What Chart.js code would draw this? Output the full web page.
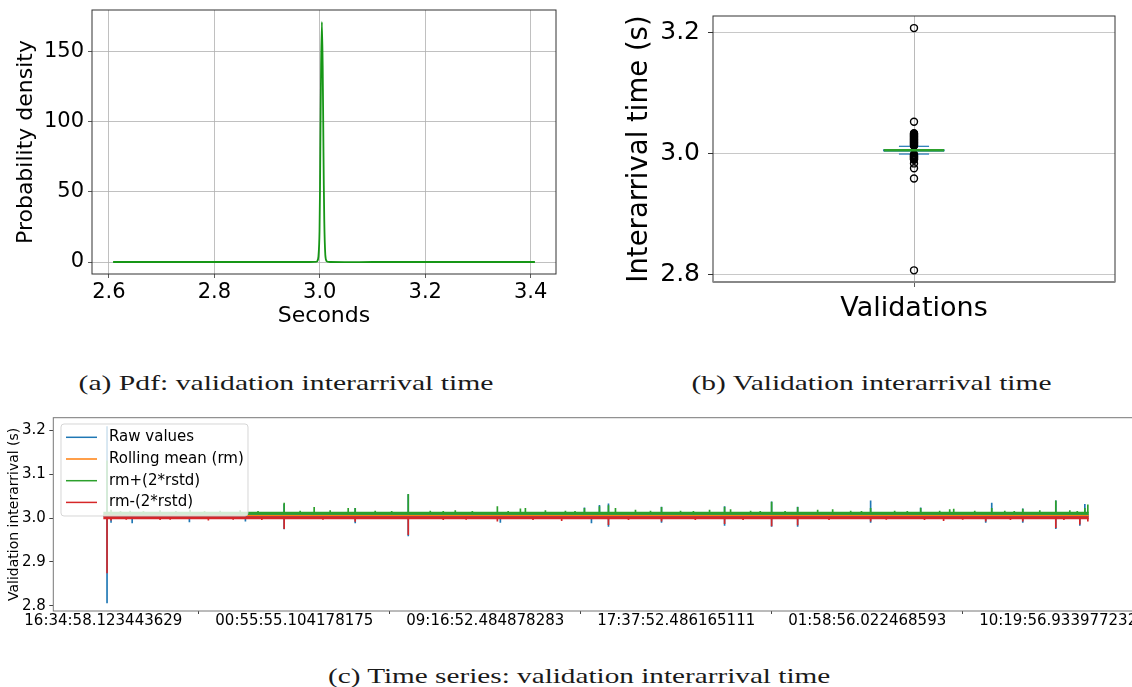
<!DOCTYPE html>
<html>
<head>
<meta charset="utf-8">
<script src="https://cdn.jsdelivr.net/npm/chart.js@4.4.0/dist/chart.umd.min.js"></script>
<style>
  html, body { margin: 0; padding: 0; background: #fff; overflow: hidden; width: 1132px; height: 687px; }
  canvas { position: absolute; }
  #pdfChart { left: 0; top: 0; }
  #boxChart { left: 600px; top: 0; }
  #seriesChart { left: 0; top: 405px; }
  .caption { position: absolute; font-family: "Liberation Serif", "DejaVu Serif", serif; font-size: 22px; color: #1a1a1a; white-space: nowrap; transform-origin: center; }
</style>
</head>
<body>
<canvas id="pdfChart" width="570" height="340"></canvas>
<canvas id="boxChart" width="532" height="340"></canvas>
<canvas id="seriesChart" width="1150" height="240"></canvas>
<div class="caption" data-cx="285.5" data-cy="383" data-w="415">(a) Pdf: validation interarrival time</div>
<div class="caption" data-cx="871" data-cy="383" data-w="360">(b) Validation interarrival time</div>
<div class="caption" data-cx="579" data-cy="676" data-w="502">(c) Time series: validation interarrival time</div>
<script>
const FONT = "'DejaVu Sans', sans-serif";

// (a) pdf of the interarrival time
const pdfX = [2.608, 2.7, 2.8, 2.9, 2.98, 2.99, 2.995, 2.9975, 2.9995, 3.001, 3.0025, 3.004,
              3.0055, 3.007, 3.0085, 3.0105, 3.013, 3.02, 3.1, 3.2, 3.3, 3.408];
const pdfY = [0, 0, 0, 0, 0, 0.1, 0.4, 4, 22, 79, 140, 171,
              140, 79, 30, 5, 0.5, 0, 0, 0, 0, 0];
const pdfXTicks = [2.6, 2.8, 3.0, 3.2, 3.4];
const pdfXTickLabels = ["2.6", "2.8", "3.0", "3.2", "3.4"];
const pdfYTicks = [0, 50, 100, 150];
const pdfYTickLabels = ["0", "50", "100", "150"];

// (b) box plot
const boxQ1 = 3.0043, boxMedian = 3.0056, boxQ3 = 3.0069;
const whiskerLow = 2.9995, whiskerHigh = 3.0123;
const outliers = [3.208, 3.053,
                  3.034, 3.033, 3.032, 3.031, 3.030, 3.029, 3.028, 3.027, 3.026, 3.025, 3.024, 3.023, 3.022,
                  3.021, 3.020, 3.019, 3.018, 3.017, 3.016, 3.015, 3.014, 3.013,
                  2.999, 2.998, 2.997, 2.996, 2.995, 2.994, 2.993, 2.992, 2.991, 2.990,
                  2.984, 2.976, 2.959, 2.807];
const boxYTicks = [2.8, 3.0, 3.2];
const boxYTickLabels = ["2.8", "3.0", "3.2"];
const boxCategory = "Validations";

// (c) time series, x = sample number
const timeTickIdx = [0, 10000, 20000, 30000, 40000, 50000];
const timeTickLabels = ["16:34:58.123443629", "00:55:55.104178175", "09:16:52.484878283",
                        "17:37:52.486165111", "01:58:56.022468593", "10:19:56.933977232"];
const seriesYTicks = [2.8, 2.9, 3.0, 3.1, 3.2];
const seriesYTickLabels = ["2.8", "2.9", "3.0", "3.1", "3.2"];

const seriesIdx = [0, 51600];
const rawLevel = [3.0056, 3.0056];
const meanLevel = [3.0057, 3.0057];
const upperLevel = [3.0108, 3.0108];
const lowerLevel = [3.0004, 3.0004];

const rawSpikeIdx  = [194, 404, 1510, 4507, 7440, 9468, 13189, 15967, 20790, 25193, 25560, 25979, 26451,
                      29229, 32531, 34994, 36357, 40179, 42800, 46206, 46521, 48146, 49876, 51134, 51396];
const rawSpikeLow  = [2.807, 2.990, 2.989, 2.991, 2.993, 2.975, 2.989, 2.959, 2.990, 3.006, 2.989, 3.006, 2.981,
                      2.990, 2.983, 2.981, 2.981, 2.990, 3.006, 2.990, 3.006, 2.990, 2.976, 2.983, 3.006];
const rawSpikeHigh = [3.208, 3.006, 3.006, 3.006, 3.006, 3.031, 3.022, 3.053, 3.006, 3.023, 3.006, 3.029, 3.032,
                      3.025, 3.026, 3.037, 3.025, 3.039, 3.023, 3.006, 3.034, 3.021, 3.039, 3.006, 3.031];

const upperSpikeIdx = [194, 404, 900, 1405, 2100, 2972, 3800, 4544, 5300, 6116, 7165, 8100, 9468, 10306, 11040, 11878,
                       12822, 13189, 14237, 15100, 15967, 17120, 17800, 18430, 19323, 20633, 21200, 21839, 22101, 23149,
                       24197, 24700, 25193, 25979, 26451, 26818, 27866, 28652, 29229, 30225, 30900, 31745, 32531, 32845,
                       33894, 34400, 34994, 35700, 36357, 37405, 38191, 39135, 39700, 40179, 41437, 42100, 42800, 43796,
                       44320, 44530, 45630, 46521, 47203, 47700, 48146, 49037, 49876, 50609, 51000, 51396, 51553];
const upperSpikeTop = [3.13, 3.018, 3.015, 3.016, 3.015, 3.017, 3.015, 3.018, 3.015, 3.016, 3.017, 3.015, 3.034, 3.016, 3.024, 3.017,
                       3.022, 3.022, 3.016, 3.015, 3.054, 3.016, 3.015, 3.017, 3.015, 3.026, 3.015, 3.021, 3.022, 3.017,
                       3.016, 3.015, 3.022, 3.026, 3.028, 3.022, 3.018, 3.016, 3.024, 3.016, 3.015, 3.018, 3.025, 3.019,
                       3.016, 3.015, 3.036, 3.015, 3.024, 3.018, 3.019, 3.016, 3.015, 3.022, 3.016, 3.015, 3.022, 3.016,
                       3.019, 3.02, 3.016, 3.022, 3.016, 3.015, 3.02, 3.017, 3.039, 3.017, 3.015, 3.022, 3.03];

const lowerSpikeIdx = [194, 404, 1200, 2972, 3500, 5500, 6800, 8300, 9468, 11500, 13189, 15967, 17800, 19000,
                       20633, 22500, 24000, 26451, 27500, 29229, 31000, 32531, 33500, 34994, 36357, 38000, 40179, 41000,
                       43000, 44000, 45000, 46206, 47500, 48146, 49876, 50300, 51134, 51553];
const lowerSpikeBottom = [2.875, 2.995, 2.997, 2.996, 2.997, 2.995, 2.997, 2.996, 2.976, 2.997, 2.992, 2.962, 2.996, 2.997,
                          2.993, 2.996, 2.994, 2.985, 2.996, 2.993, 2.996, 2.987, 2.996, 2.982, 2.984, 2.996, 2.993, 2.997,
                          2.996, 2.994, 2.997, 2.993, 2.996, 2.993, 2.978, 2.996, 2.986, 2.993];

const BLUE = "#1f77b4", ORANGE = "#ff7f0e", GREEN = "#2ca02c", RED = "#d62728";

// top/right spines are not drawn by Chart.js, so stroke the whole frame here
const frame = {
    id: "frame",
    afterDraw(chart, args, opts) {
        const { ctx, chartArea: a } = chart;
        ctx.save();
        ctx.strokeStyle = opts.color;
        ctx.lineWidth = opts.width;
        ctx.strokeRect(a.left, a.top, a.right - a.left, a.bottom - a.top);
        if (opts.bottomColor) {
            ctx.strokeStyle = opts.bottomColor;
            ctx.lineWidth = opts.bottomWidth;
            ctx.beginPath();
            ctx.moveTo(a.left, a.bottom);
            ctx.lineTo(a.right, a.bottom);
            ctx.stroke();
        }
        ctx.restore();
    }
};

// matplotlib style legend, drawn over the lines with a translucent box
const legendBox = {
    id: "legendBox",
    afterDatasetsDraw(chart, args, opts) {
        const ctx = chart.ctx;
        const items = chart.data.datasets.filter(d => d.inLegend);
        ctx.save();
        ctx.fillStyle = "rgba(255,255,255,0.8)";
        ctx.strokeStyle = "rgba(204,204,204,0.8)";
        ctx.lineWidth = 1;
        ctx.beginPath();
        ctx.roundRect(opts.x, opts.y, opts.w, opts.h, 3);
        ctx.fill();
        ctx.stroke();
        ctx.font = "15px " + FONT;
        ctx.textBaseline = "middle";
        ctx.fillStyle = "#000";
        items.forEach((d, i) => {
            const y = opts.y + opts.first + i * opts.step;
            ctx.strokeStyle = d.borderColor;
            ctx.lineWidth = 1.5;
            ctx.beginPath();
            ctx.moveTo(opts.x + 5, y);
            ctx.lineTo(opts.x + 36, y);
            ctx.stroke();
            ctx.fillText(d.label, opts.x + 48, y);
        });
        ctx.restore();
    }
};

function fixedTicks(values) {
    return axis => { axis.ticks = values.map(v => ({ value: v })); };
}

const base = {
    responsive: false,
    animation: false,
    devicePixelRatio: 1,
    events: []
};

// ---------- (a) ----------
new Chart(document.getElementById("pdfChart"), {
    type: "line",
    data: {
        datasets: [{
            data: pdfX.map((x, i) => ({ x, y: pdfY[i] })),
            borderColor: "#169616",
            borderWidth: 1.8,
            pointRadius: 0,
            tension: 0.3
        }]
    },
    options: {
        ...base,
        layout: { padding: { top: 10, right: 14, left: 0, bottom: 0 } },
        plugins: {
            legend: { display: false },
            tooltip: { enabled: false },
            frame: { color: "#333", width: 1 }
        },
        scales: {
            x: {
                type: "linear", min: 2.568, max: 3.448,
                afterBuildTicks: fixedTicks(pdfXTicks),
                afterFit: ax => { ax.height = 66; },
                ticks: { callback: (v, i) => pdfXTickLabels[i], font: { family: FONT, size: 21 }, color: "#000", padding: 2, maxRotation: 0, autoSkip: false },
                grid: { color: "#b0b0b0", lineWidth: 0.8, tickLength: 4, tickColor: "#333" },
                border: { display: false },
                title: { display: true, text: "Seconds", font: { family: FONT, size: 22 }, color: "#000", padding: { top: 0, bottom: 11 } }
            },
            y: {
                type: "linear", min: -8.55, max: 179.55,
                afterBuildTicks: fixedTicks(pdfYTicks),
                afterFit: ax => { ax.width = 92; },
                ticks: { callback: (v, i) => pdfYTickLabels[i], font: { family: FONT, size: 21, lineHeight: 0.4 }, color: "#000", padding: 4, autoSkip: false },
                grid: { color: "#b0b0b0", lineWidth: 0.8, tickLength: 4, tickColor: "#333" },
                border: { display: false },
                title: { display: true, text: "Probability density", font: { family: FONT, size: 22 }, color: "#000", padding: { top: 13, bottom: 0 } }
            }
        }
    },
    plugins: [frame]
});

// ---------- (b) ----------
const boxL = 0.925, boxR = 1.075, capL = 0.9625, capR = 1.0375;
new Chart(document.getElementById("boxChart"), {
    type: "scatter",
    data: {
        datasets: [
            { data: [{ x: boxL, y: boxMedian }, { x: boxR, y: boxMedian }], showLine: true, borderColor: GREEN, borderWidth: 2.5, pointRadius: 0, order: 0 },
            { data: outliers.map(v => ({ x: 1, y: v })), pointStyle: "circle", pointRadius: 3.5, borderWidth: 1.4, borderColor: "#000", backgroundColor: "rgba(0,0,0,0)", order: 1 },
            { data: [{ x: boxL, y: boxQ1 }, { x: boxR, y: boxQ1 }, { x: boxR, y: boxQ3 }, { x: boxL, y: boxQ3 }, { x: boxL, y: boxQ1 }], showLine: true, borderColor: BLUE, borderWidth: 1, pointRadius: 0, order: 2 },
            { data: [{ x: 1, y: boxQ3 }, { x: 1, y: whiskerHigh }], showLine: true, borderColor: BLUE, borderWidth: 1, pointRadius: 0, order: 2 },
            { data: [{ x: 1, y: boxQ1 }, { x: 1, y: whiskerLow }], showLine: true, borderColor: BLUE, borderWidth: 1, pointRadius: 0, order: 2 },
            { data: [{ x: capL, y: whiskerHigh }, { x: capR, y: whiskerHigh }], showLine: true, borderColor: BLUE, borderWidth: 1.2, pointRadius: 0, order: 2 },
            { data: [{ x: capL, y: whiskerLow }, { x: capR, y: whiskerLow }], showLine: true, borderColor: BLUE, borderWidth: 1.2, pointRadius: 0, order: 2 }
        ]
    },
    options: {
        ...base,
        layout: { padding: { top: 16, right: 17, left: 0, bottom: 0 } },
        plugins: {
            legend: { display: false },
            tooltip: { enabled: false },
            frame: { color: "#333", width: 1, bottomColor: "#888", bottomWidth: 2 }
        },
        scales: {
            x: {
                type: "linear", min: 0.5, max: 1.5,
                afterBuildTicks: fixedTicks([1]),
                afterFit: ax => { ax.height = 58; },
                ticks: { callback: () => boxCategory, font: { family: FONT, size: 27 }, color: "#000", padding: 6, maxRotation: 0, autoSkip: false },
                grid: { color: "#a8a8a8", lineWidth: 0.8, tickLength: 5, tickColor: "#333" },
                border: { display: false }
            },
            y: {
                type: "linear", min: 2.7877, max: 3.228,
                afterBuildTicks: fixedTicks(boxYTicks),
                afterFit: ax => { ax.width = 113; },
                ticks: { callback: (v, i) => boxYTickLabels[i], font: { family: FONT, size: 25, lineHeight: 0.4 }, color: "#000", padding: 8, autoSkip: false },
                grid: { color: "#c8c8c8", lineWidth: 1, tickLength: 5, tickColor: "#333" },
                border: { display: false },
                title: { display: true, text: "Interarrival time (s)", font: { family: FONT, size: 27.5 }, color: "#000", padding: { top: 23, bottom: 0 } }
            }
        }
    },
    plugins: [frame]
});

// ---------- (c) ----------
function levelLine(label, values, color, width, order) {
    return {
        type: "line", label, inLegend: true,
        data: seriesIdx.map((x, i) => ({ x, y: values[i] })),
        borderColor: color, borderWidth: width, pointRadius: 0, tension: 0, order
    };
}
function spikeBars(idx, low, high, color, order) {
    return {
        type: "bar", grouped: false,
        data: idx.map((x, i) => ({ x, y: [low[i], high[i]] })),
        backgroundColor: color, borderWidth: 0, barThickness: 1, order
    };
}

new Chart(document.getElementById("seriesChart"), {
    data: {
        datasets: [
            levelLine("Raw values", rawLevel, BLUE, 3, 8),
            levelLine("Rolling mean (rm)", meanLevel, ORANGE, 1.6, 6),
            levelLine("rm+(2*rstd)", upperLevel, GREEN, 3.2, 4),
            levelLine("rm-(2*rstd)", lowerLevel, RED, 3, 2),
            spikeBars(rawSpikeIdx, rawSpikeLow, rawSpikeHigh, BLUE, 7),
            spikeBars(upperSpikeIdx, upperSpikeIdx.map(() => upperLevel[0]), upperSpikeTop, GREEN, 3),
            spikeBars(lowerSpikeIdx, lowerSpikeBottom, lowerSpikeIdx.map(() => lowerLevel[0]), RED, 1)
        ]
    },
    options: {
        ...base,
        layout: { padding: { top: 12.7, right: 12, left: 0, bottom: 0 } },
        plugins: {
            legend: { display: false },
            tooltip: { enabled: false },
            frame: { color: "#777", width: 1 },
            legendBox: { x: 61, y: 19, w: 187, h: 92, first: 13.3, step: 21.7 }
        },
        scales: {
            x: {
                type: "linear", min: -2620, max: 54180, offset: false,
                afterBuildTicks: fixedTicks(timeTickIdx),
                afterFit: ax => { ax.height = 34; },
                ticks: { callback: (v, i) => timeTickLabels[i], font: { family: FONT, size: 15, lineHeight: 1.0 }, color: "#000", padding: 0, maxRotation: 0, autoSkip: false },
                grid: { drawOnChartArea: false, tickLength: 3, tickColor: "#444" },
                border: { display: false }
            },
            y: {
                type: "linear", min: 2.7886, max: 3.228,
                afterBuildTicks: fixedTicks(seriesYTicks),
                afterFit: ax => { ax.width = 53.3; },
                ticks: { callback: (v, i) => seriesYTickLabels[i], font: { family: FONT, size: 15, lineHeight: 0.5 }, color: "#000", padding: 3.5, autoSkip: false },
                grid: { drawOnChartArea: false, tickLength: 4, tickColor: "#444" },
                border: { display: false },
                title: { display: true, text: "Validation interarrival (s)", font: { family: FONT, size: 14 }, color: "#000", padding: { top: 5.6, bottom: 0 } }
            }
        }
    },
    plugins: [frame, legendBox]
});

// captions: centre them and stretch to the width of the original typeset text
document.querySelectorAll(".caption").forEach(el => {
    const w = el.offsetWidth, h = el.offsetHeight;
    el.style.left = (+el.dataset.cx - w / 2) + "px";
    el.style.top = (+el.dataset.cy - h / 2) + "px";
    el.style.transform = "scaleX(" + (+el.dataset.w / w) + ")";
});
</script>
</body>
</html>
